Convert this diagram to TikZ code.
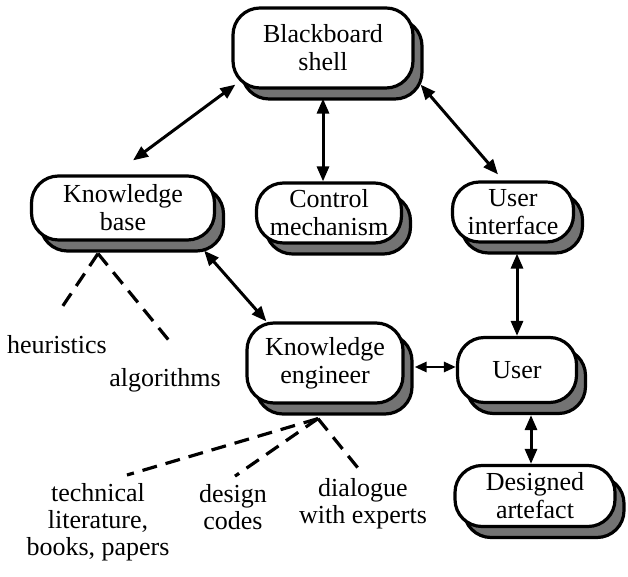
\documentclass[tikz,border=0pt]{standalone}
\usepackage{fontspec}
\setmainfont{Liberation Serif}
\usetikzlibrary{arrows.meta,shadows,calc}
\begin{document}
\begin{tikzpicture}[x=1pt,y=1pt,
  box/.style={draw=black, line width=3.2pt, fill=white, rounded corners=27pt,
    align=center, inner sep=0pt, font=\fontsize{26}{28}\selectfont,
    general shadow={shadow xshift=9pt, shadow yshift=-11pt, fill=black!55, draw=black, line width=3.2pt}},
  lab/.style={align=center, inner sep=0pt, font=\fontsize{26}{27}\selectfont},
  arr/.style={line width=3pt, {Triangle[length=15pt,width=12pt]}-{Triangle[length=15pt,width=12pt]}},
  sarr/.style={line width=2.8pt, {Triangle[length=12pt,width=10pt]}-{Triangle[length=12pt,width=10pt]}},
  dsh/.style={line width=3.2pt, dash pattern=on 15pt off 9pt}]
\useasboundingbox (0,0) rectangle (628,577);
\node[box, minimum width=180pt, minimum height=80pt] (bb) at (323,529) {Blackboard\\shell};
\node[box, minimum width=183pt, minimum height=64pt] (kb) at (123,369) {Knowledge\\base};
\node[box, minimum width=145pt, minimum height=60pt] (cm) at (329,364) {Control\\mechanism};
\node[box, minimum width=121pt, minimum height=60pt] (ui) at (513,365) {User\\interface};
\node[box, minimum width=156pt, minimum height=80pt] (ke) at (325,214) {Knowledge\\engineer};
\node[box, minimum width=119pt, minimum height=65pt] (us) at (517,207) {User};
\node[box, minimum width=160pt, minimum height=61pt] (da) at (535,81) {Designed\\artefact};

\node[lab] (heu) at (57,232) {heuristics};
\node[lab] (alg) at (165,197) {algorithms};
\node[lab] (tec) at (98,55) {technical\\literature,\\books, papers};
\node[lab] (dc) at (233,70) {design\\codes};
\node[lab] (dwe) at (363,73) {dialogue\\with experts};

\draw[arr] ($(bb.south west)+(4,5)$) -- ($(kb.north)+(10,14)$);
\draw[arr] ($(bb.south)+(0,-9)$) -- ($(cm.north)+(-6,0)$);
\draw[arr] ($(bb.south east)+(6,5)$) -- ($(ui.north)+(-15,6)$);
\draw[arr] ($(kb.south east)+(-12,-9)$) -- ($(ke.north west)+(21,0)$);
\draw[arr] ($(ui.south)+(4,-10)$) -- (us.north);
\draw[sarr] ($(ke.east)+(10,-4)$) -- ($(us.west)+(0,3)$);
\draw[arr] ($(us.south)+(14,-11)$) -- ($(da.north)+(-4,0)$);

\coordinate (kbo) at ($(kb.south)+(-25,-12)$);
\coordinate (keo) at ($(ke.south)+(-7,-14)$);
\draw[dsh] (kbo) -- ($(heu.north)+(4,27)$);
\draw[dsh] (kbo) -- ($(alg.north)+(6,25)$);
\draw[dsh] (keo) -- ($(tec.north)+(29,8)$);
\draw[dsh] (keo) -- ($(dc.north)+(2,8)$);
\draw[dsh] (keo) -- ($(dwe.north)+(-3,8)$);
\end{tikzpicture}
\end{document}
